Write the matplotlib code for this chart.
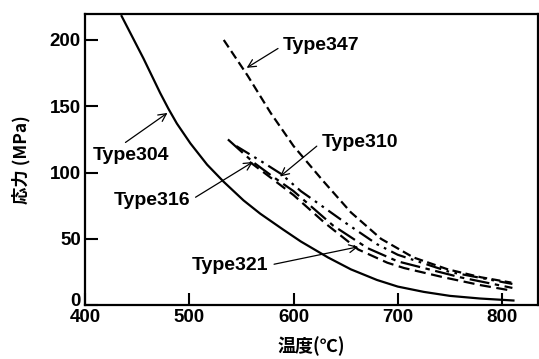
import matplotlib
matplotlib.use("Agg")
import matplotlib.pyplot as plt
import matplotlib.transforms as mtransforms

# Data (temperature in °C, stress in MPa)
t304 = [435, 456, 472, 480, 488, 501, 517, 533, 552, 568, 590, 607, 633, 655, 680, 700, 725, 750, 779, 811]
s304 = [218, 186, 160, 148, 137, 122, 106, 93, 79, 69, 57, 48, 36, 27, 19, 14, 10, 7, 5, 3.5]

t347 = [533, 556, 578, 600, 628, 655, 684, 715, 748, 780, 809]
s347 = [200, 173, 145, 120, 94, 70, 50, 36, 27, 21, 17]

t310 = [545, 570, 588, 607, 625, 650, 680, 700, 750, 810]
s310 = [120, 108, 99, 86, 76, 62, 46, 38, 25, 16]

t316 = [537, 561, 580, 600, 638, 671, 700, 730, 760, 810]
s316 = [125, 108, 97, 86, 60, 43, 33, 27, 21, 13]

t321 = [558, 580, 600, 630, 662, 690, 706, 744, 780, 809]
s321 = [108, 95, 83, 62, 42, 32, 28, 21, 15, 11]

xticks = [400, 500, 600, 700, 800]
yticks = [0, 50, 100, 150, 200]

plt.rcParams['font.family'] = ['Liberation Sans', 'Noto Sans CJK JP', 'DejaVu Sans']

fig = plt.figure(figsize=(5.39, 3.59), dpi=100)
ax = fig.add_axes([0.158, 0.150, 0.840, 0.811])

lw = 1.6
ax.plot(t304, s304, color='black', lw=lw, ls='-')
ax.plot(t347, s347, color='black', lw=lw, ls=(0, (4, 2)))
ax.plot(t310, s310, color='black', lw=lw, ls=(0, (7, 2.5, 1.2, 2.5, 1.2, 2.5)))
ax.plot(t316, s316, color='black', lw=lw, ls=(0, (9, 2.5, 2, 2.5)))
ax.plot(t321, s321, color='black', lw=lw, ls=(0, (5, 2.5)))

ax.set_xlim(400, 834.5)
ax.set_ylim(0, 219.6)
ax.set_xticks(xticks)
ax.set_yticks(yticks)
ax.tick_params(direction='in', length=9, width=1.5, labelsize=13.5, pad=3)
for lab in ax.get_xticklabels() + ax.get_yticklabels():
    lab.set_fontweight('bold')
for sp in ax.spines.values():
    sp.set_linewidth(1.6)

# raise the "0" label slightly as in the reference
ylabs = ax.get_yticklabels()
off = mtransforms.ScaledTranslation(0, 6 / 100, fig.dpi_scale_trans)
ylabs[0].set_transform(ylabs[0].get_transform() + off)

ax.set_xlabel('温度(℃)', fontsize=13, fontweight='bold',
              family=['Noto Sans CJK JP', 'DejaVu Sans'], labelpad=7)
ax.set_ylabel('応力 (MPa)', fontsize=12.5, fontweight='bold',
              family=['Noto Sans CJK JP', 'DejaVu Sans'], labelpad=14)

fs = 14
ap = dict(arrowstyle='->', color='black', lw=0.9, shrinkA=2, shrinkB=0)
ax.annotate('Type347', xy=(555, 179), xytext=(590, 196), ha='left', va='center',
            fontsize=fs, fontweight='bold', arrowprops=dict(ap, relpos=(0, 0.5)))
ax.annotate('Type304', xy=(479, 145), xytext=(407, 113), ha='left', va='center',
            fontsize=fs, fontweight='bold', arrowprops=dict(ap, relpos=(0.35, 1)))
ax.annotate('Type316', xy=(561, 108), xytext=(501, 79), ha='right', va='center',
            fontsize=fs, fontweight='bold', arrowprops=dict(ap, relpos=(1, 0.5)))
ax.annotate('Type310', xy=(587, 97), xytext=(627, 123), ha='left', va='center',
            fontsize=fs, fontweight='bold', arrowprops=dict(ap, relpos=(0, 0.5)))
ax.annotate('Type321', xy=(662, 44), xytext=(576, 30), ha='right', va='center',
            fontsize=fs, fontweight='bold', arrowprops=dict(ap, relpos=(1, 0.5)))

fig.savefig('out.png', dpi=100)
